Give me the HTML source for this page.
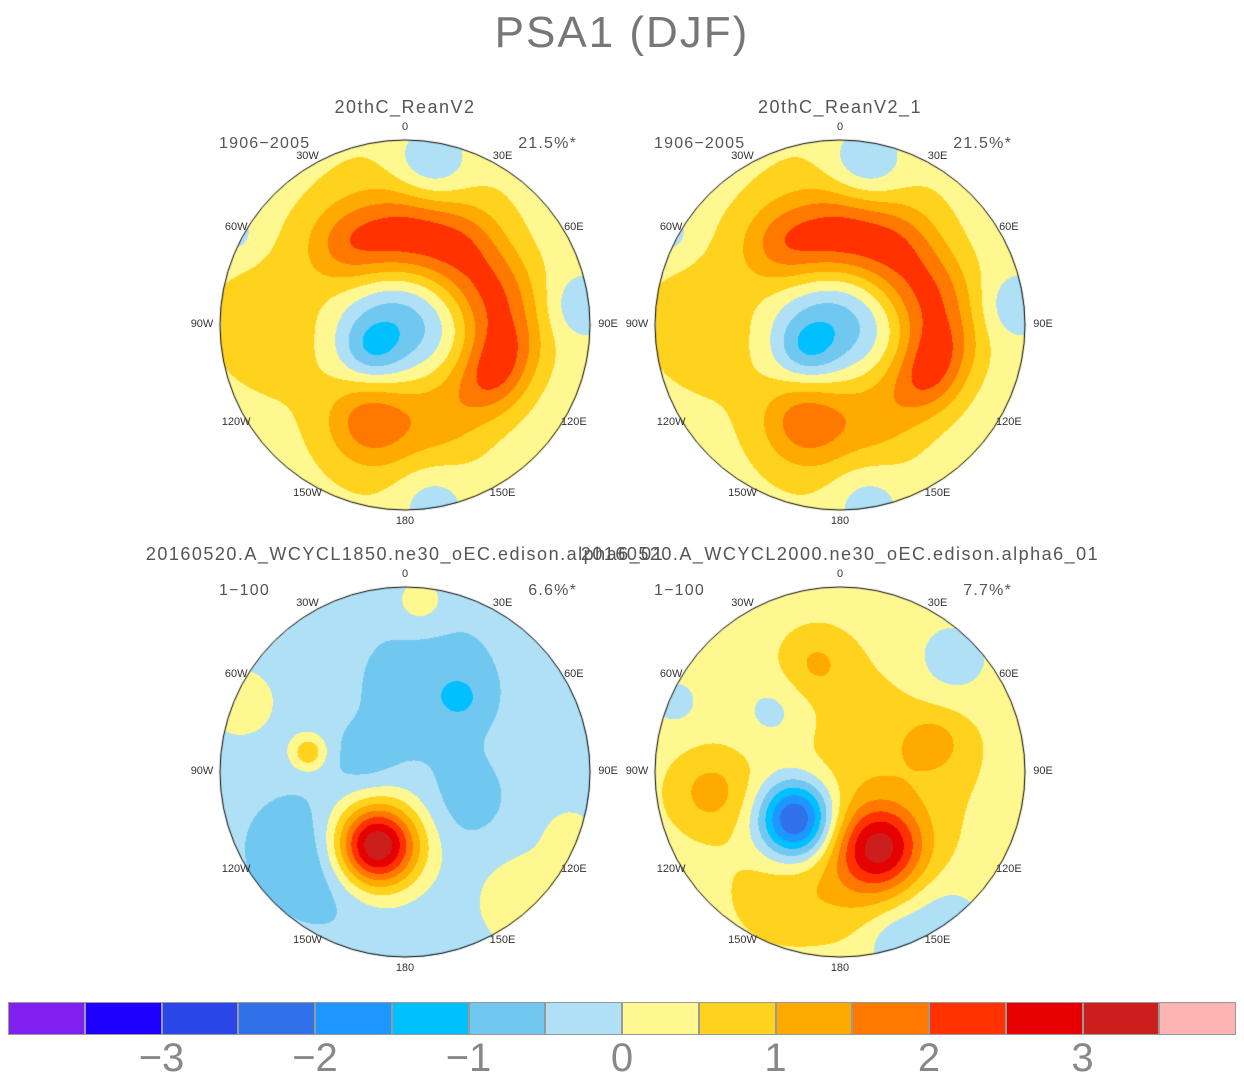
<!DOCTYPE html>
<html><head><meta charset="utf-8">
<style>
body{margin:0;background:#fff;width:1244px;height:1082px;position:relative;overflow:hidden;font-family:"Liberation Sans",sans-serif;color:#555}
.t{position:absolute;white-space:nowrap}
canvas{position:absolute}
</style></head><body>
<div class="t" style="left:0;width:1244px;text-align:center;top:8px;font-size:44px;font-weight:100;color:#777;letter-spacing:2px">PSA1 (DJF)</div>
<div id="root"></div>
<div id="cb"></div>
<script>
const colors=["#8020f0","#1e00ff","#2a45e8","#3070e8","#1e96ff","#00c0ff","#70c8f0","#b0e0f5","#fff890","#ffd21e","#ffaa00","#ff7800","#ff3200","#e60000","#cd1e1e","#ffb4b4"];
const levels=[-3,-2,-1,0,1,2,3];
const panelTitles=["20thC_ReanV2","20thC_ReanV2_1","20160520.A_WCYCL1850.ne30_oEC.edison.alpha6_01","20160520.A_WCYCL2000.ne30_oEC.edison.alpha6_01"];
const panelYears=["1906\u22122005","1906\u22122005","1\u2212100","1\u2212100"];
const panelPct=["21.5%*","21.5%*","6.6%*","7.7%*"];
const panelBase=[0.2,0.2,-0.3,0.25];
// blobs: [dx, dy (px from centre), amplitude, sigma px]
const blobsTL=[[-55,-80,1.2,30],[0,-90,1.3,32],[55,-75,1.3,32],[90,-30,1.35,30],[100,20,1.35,28],[85,55,1.2,26],[-10,-5,-1.4,45],[-35,25,-0.8,22],[-35,95,1.2,30],[40,85,0.8,35],[-130,0,0.6,55],[-20,110,0.5,55],[0,-100,0.6,70],[25,-160,-1.0,28],[175,-20,-0.6,22],[25,175,-0.6,25],[-170,-90,-0.5,18]];
const blobsTR=[[-55,-80,1.2,30],[0,-90,1.3,32],[55,-75,1.3,32],[90,-30,1.35,30],[100,20,1.35,28],[85,55,1.2,26],[-10,-5,-1.4,45],[-35,25,-0.8,22],[-35,95,1.2,30],[40,85,0.8,35],[-130,0,0.6,55],[-20,110,0.5,55],[0,-100,0.6,70],[25,-160,-1.0,28],[175,-20,-0.6,22],[25,175,-0.6,25],[-170,-90,-0.5,18]];
const blobsBL=[[25,-85,-0.5,50],[55,-75,-0.5,15],[-105,75,-0.5,40],[-70,105,-0.4,35],[-30,75,3.5,29],[-20,60,0.5,35],[-165,-70,0.7,25],[-97,-20,1.2,13],[120,130,0.7,35],[165,60,0.4,25],[15,-170,0.6,20],[-40,-10,-0.4,25],[60,30,-0.4,30]];
const blobsBR=[[40,-10,0.6,70],[-130,20,0.9,30],[-25,-110,0.7,25],[95,-30,0.6,22],[-45,40,-2.0,26],[-45,60,-1.3,26],[40,75,2.5,30],[10,110,0.5,40],[110,-110,-0.6,30],[100,150,-0.6,30],[55,170,-0.6,22],[-65,-60,-0.5,25],[-165,-70,-0.4,20],[-60,120,0.5,40]];
const allBlobs=[blobsTL,blobsTR,blobsBL,blobsBR];
const centers=[[405,325],[840,325],[405,772],[840,772]];
const R=185;
const lonLabels=["0","30E","60E","90E","120E","150E","180","150W","120W","90W","60W","30W"];
const root=document.getElementById('root');
function txt(x,y,s,size,name,align){const d=document.createElement('div');d.className='t';d.textContent=s;d.style.fontSize=size+'px';d.style.top=(y-size*0.6)+'px';
 if(align==='c'){d.style.left=(x-300)+'px';d.style.width='600px';d.style.textAlign='center';}else if(align==='r'){d.style.right=(1244-x)+'px';}else d.style.left=x+'px';
 
 
 root.appendChild(d);return d;}
function hex(c){return [parseInt(c.substr(1,2),16),parseInt(c.substr(3,2),16),parseInt(c.substr(5,2),16)];}
const rgb=colors.map(hex);
for(let p=0;p<4;p++){
 const [cx,cy]=centers[p];const bl=allBlobs[p];
 const cv=document.createElement('canvas');cv.width=2*R+4;cv.height=2*R+4;cv.style.left=(cx-R-2)+'px';cv.style.top=(cy-R-2)+'px';
 
 
 root.appendChild(cv);
 const ctx=cv.getContext('2d');const img=ctx.createImageData(cv.width,cv.height);
 for(let y=0;y<cv.height;y++)for(let x=0;x<cv.width;x++){
  const dx=x-R-2,dy=y-R-2;if(dx*dx+dy*dy>R*R)continue;
  let v=panelBase[p];
  for(const b of bl){const ex=dx-b[0],ey=dy-b[1];v+=b[2]*Math.exp(-(ex*ex+ey*ey)/(2*b[3]*b[3]));}
  let i=Math.floor((v+4)/0.5);if(i<0)i=0;if(i>15)i=15;const c=rgb[i];const k=(y*cv.width+x)*4;
  img.data[k]=c[0];img.data[k+1]=c[1];img.data[k+2]=c[2];img.data[k+3]=255;}
 ctx.putImageData(img,0,0);
 ctx.beginPath();ctx.arc(R+2,R+2,R,0,Math.PI*2);ctx.strokeStyle='#000';ctx.lineWidth=1;ctx.stroke();
 const tt=txt(cx,cy-217,panelTitles[p],18,'panel-title-'+(p+1),'c');tt.style.letterSpacing='1.5px';
 const ty=txt(cx-186,cy-180,panelYears[p],16,'period-label-'+(p+1),'l');ty.style.letterSpacing='1.2px';
 const tp=txt(cx+172,cy-180,panelPct[p],16,'variance-label-'+(p+1),'r');tp.style.letterSpacing='1.2px';
 for(let j=0;j<12;j++){const a=j*30*Math.PI/180;const rr=R+(j%3===0?12:10)+((j%6===3)?6:0);
  const lx=cx+Math.sin(a)*rr,ly=cy-Math.cos(a)*rr;
  const d=txt(lx,ly,lonLabels[j],11,'lon-label',"c");d.style.color='#333';}
}
const cb=document.getElementById('cb');const w=(1236-8)/16;
for(let i=0;i<16;i++){const d=document.createElement('div');d.style.cssText=`position:absolute;left:${8+i*w}px;top:1002px;width:${w}px;height:33px;background:${colors[i]};box-sizing:border-box;border:0.5px solid #999`;
 
 
 cb.appendChild(d);}
levels.forEach(l=>{const x=8+(l+4)*2*w;const d=txt(x,1060,(l<0?'\u2212':'')+Math.abs(l),40,'colorbar-tick-label','c');d.style.fontWeight='100';d.style.color='#888';});
</script>
</body></html>
